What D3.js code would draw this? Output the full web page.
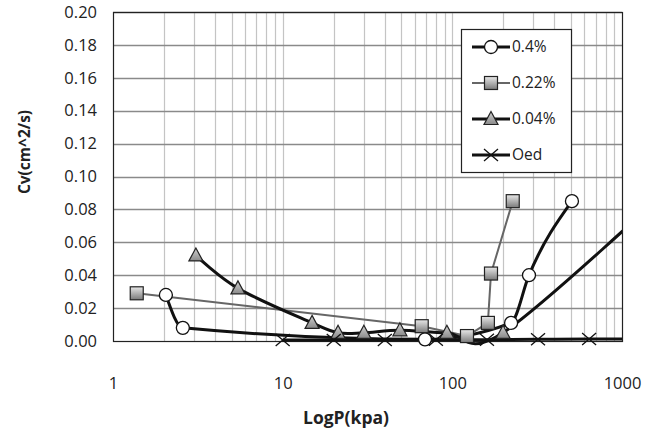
<!DOCTYPE html>
<html><head><meta charset="utf-8">
<script src="https://cdn.jsdelivr.net/npm/d3@7"></script>
<style>body{margin:0;background:#fff}svg{display:block}</style></head>
<body><svg id="c" width="656" height="434"></svg>
<script>
// ---- data ----
const yTicks = [0, 0.02, 0.04, 0.06, 0.08, 0.10, 0.12, 0.14, 0.16, 0.18, 0.20];
const xTickLabels = [1, 10, 100, 1000];
const seriesNames = ["0.4%", "0.22%", "0.04%", "Oed"];
const p04 = [2.05, 2.58, 69, 222, 283, 507];
const cv04 = [0.028, 0.008, 0.001, 0.011, 0.040, 0.085];
const p022 = [1.38, 66, 122, 162, 169, 227];
const cv022 = [0.029, 0.009, 0.003, 0.011, 0.041, 0.085];
const p004 = [3.08, 5.45, 14.9, 21.2, 30.1, 49.1, 92.9, 199, 2000];
const cv004 = [0.052, 0.032, 0.011, 0.005, 0.005, 0.0065, 0.005, 0.005, 0.095];
const pOed = [10, 20, 40, 80, 160, 320, 640, 1280];
const cvOed = [0.0006, 0.0006, 0.0006, 0.0008, 0.0008, 0.0010, 0.0012, 0.0012];

// ---- layout ----
const svg = d3.select("#c");
const L = 113, R = 622, T = 12, B = 341;
const x = d3.scaleLog().domain([1, 1000]).range([L, R]);
const y = d3.scaleLinear().domain([0, 0.2]).range([B, T]);
const font = "'Open Sans', 'Noto Sans', sans-serif";

const defs = svg.append("defs");
const g1 = defs.append("linearGradient").attr("id", "gsq").attr("x1", 0).attr("y1", 0).attr("x2", 0).attr("y2", 1);
g1.append("stop").attr("offset", "0%").attr("stop-color", "#e8e8e8");
g1.append("stop").attr("offset", "100%").attr("stop-color", "#7a7a7a");
const g2 = defs.append("linearGradient").attr("id", "gtr").attr("x1", 0).attr("y1", 0).attr("x2", 0).attr("y2", 1);
g2.append("stop").attr("offset", "0%").attr("stop-color", "#d0d0d0");
g2.append("stop").attr("offset", "100%").attr("stop-color", "#8a8a8a");
defs.append("clipPath").attr("id", "clip").append("rect")
  .attr("x", L).attr("y", T - 2).attr("width", R - L).attr("height", B - T + 10);

// vertical minor/major grid
const vgrid = [];
for (let d = 1; d < 1000; d *= 10) for (let k = 1; k <= 9; k++) vgrid.push(d * k);
svg.append("g").selectAll("line").data(vgrid.filter(v => v > 1 && v < 1000)).join("line")
  .attr("x1", d => Math.round(x(d)) + 0.5).attr("x2", d => Math.round(x(d)) + 0.5)
  .attr("y1", T).attr("y2", B).attr("stroke", "#c4c4c4").attr("stroke-width", 1.2);
// horizontal grid
svg.append("g").selectAll("line").data(yTicks.slice(1)).join("line")
  .attr("x1", L).attr("x2", R)
  .attr("y1", d => Math.round(y(d)) + 0.5).attr("y2", d => Math.round(y(d)) + 0.5)
  .attr("stroke", "#8a8a8a").attr("stroke-width", 1.3);
// frame
svg.append("rect").attr("x", L + 0.5).attr("y", T + 0.5).attr("width", R - L).attr("height", B - T)
  .attr("fill", "none").attr("stroke", "#222").attr("stroke-width", 1.2);

// axes labels via d3 axes
const yAxis = svg.append("g").attr("transform", `translate(${L},0)`)
  .call(d3.axisLeft(y).tickValues(yTicks).tickFormat(d3.format(".2f")).tickSize(0).tickPadding(16));
yAxis.select(".domain").remove();
yAxis.selectAll("text").attr("font-family", font).attr("font-size", 16.5).attr("fill", "#222");
const xAxis = svg.append("g").attr("transform", `translate(0,${B})`)
  .call(d3.axisBottom(x).tickValues(xTickLabels).tickFormat(d3.format("d")).tickSize(0).tickPadding(36));
xAxis.select(".domain").remove();
xAxis.selectAll("text").attr("font-family", font).attr("font-size", 16.5).attr("fill", "#222");

svg.append("text").attr("x", 346).attr("y", 424).attr("text-anchor", "middle")
  .attr("font-family", font).attr("font-weight", "bold").attr("font-size", 17.5).attr("fill", "#222").text("LogP(kpa)");
svg.append("text").attr("transform", "translate(30,152) rotate(-90)").attr("text-anchor", "middle")
  .attr("font-family", font).attr("font-weight", "bold").attr("font-size", 15.5).attr("fill", "#222").text("Cv(cm^2/s)");

// series
const series = [
  { name: seriesNames[0], xs: p04, ys: cv04, color: "#111", width: 3, marker: "circle", curve: d3.curveMonotoneX },
  { name: seriesNames[1], xs: p022, ys: cv022, color: "#666", width: 2, marker: "square", curve: d3.curveLinear },
  { name: seriesNames[2], xs: p004, ys: cv004, color: "#111", width: 3, marker: "triangle", curve: d3.curveCardinal.tension(0) },
  { name: seriesNames[3], xs: pOed, ys: cvOed, color: "#111", width: 3, marker: "x", curve: d3.curveMonotoneX }
];

function drawMarker(g, type) {
  if (type === "circle") g.append("circle").attr("r", 6.5).attr("fill", "#fff").attr("stroke", "#111").attr("stroke-width", 1.3);
  else if (type === "square") g.append("rect").attr("x", -6.5).attr("y", -6.5).attr("width", 13).attr("height", 13)
    .attr("fill", "url(#gsq)").attr("stroke", "#222").attr("stroke-width", 1.2);
  else if (type === "triangle") g.append("path").attr("d", "M0,-7.5L7,5.5L-7,5.5Z")
    .attr("fill", "url(#gtr)").attr("stroke", "#222").attr("stroke-width", 1.2);
  else if (type === "x") g.append("path").attr("d", "M-7,-6L7,6M-7,6L7,-6").attr("stroke", "#111").attr("stroke-width", 1.3).attr("fill", "none");
}

const plot = svg.append("g").attr("clip-path", "url(#clip)");
series.forEach(s => {
  const pts = s.xs.map((v, i) => [v, s.ys[i]]);
  const line = d3.line().curve(s.curve).x(d => x(d[0])).y(d => y(d[1]));
  plot.append("path").datum(pts).attr("d", line).attr("fill", "none")
    .attr("stroke", s.color).attr("stroke-width", s.width).attr("stroke-linejoin", "round");
});
series.forEach(s => {
  const pts = s.xs.map((v, i) => [v, s.ys[i]]).filter(d => d[0] <= 1000);
  pts.forEach(d => {
    const g = plot.append("g").attr("transform", `translate(${x(d[0])},${y(d[1])})`);
    drawMarker(g, s.marker);
  });
});

// legend
const lg = svg.append("g");
lg.append("rect").attr("x", 461.5).attr("y", 29.5).attr("width", 110).attr("height", 143)
  .attr("fill", "#fff").attr("stroke", "#222").attr("stroke-width", 1.2);
series.forEach((s, i) => {
  const cy = 47 + i * 36;
  lg.append("line").attr("x1", 472).attr("x2", 510).attr("y1", cy).attr("y2", cy)
    .attr("stroke", s.color).attr("stroke-width", s.width);
  const g = lg.append("g").attr("transform", `translate(491,${cy})`);
  drawMarker(g, s.marker);
  lg.append("text").attr("x", 512).attr("y", cy).attr("dy", "0.35em")
    .attr("font-family", font).attr("font-size", 15.5).attr("fill", "#222").text(s.name);
});
</script>
</body></html>
